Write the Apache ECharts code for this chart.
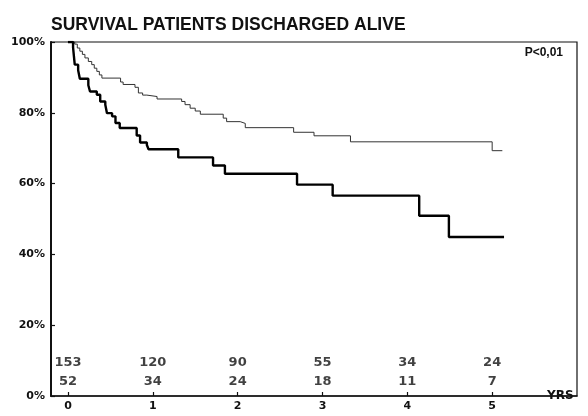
<!DOCTYPE html>
<html>
<head>
<meta charset="utf-8">
<script src="https://cdn.jsdelivr.net/npm/echarts@6/dist/echarts.min.js"></script>
<style>
  html, body { margin: 0; padding: 0; background: #fff; }
  #chart { width: 588px; height: 416px; }
</style>
</head>
<body>
<div id="chart"></div>
<script>
// years on the x axis, tick labels
const yearTicks = [0, 1, 2, 3, 4, 5];
const yTicks = [0, 20, 40, 60, 80, 100];

// patients at risk under each year
const atRiskAll = [153, 120, 90, 55, 34, 24];
const atRiskLow = [52, 34, 24, 18, 11, 7];

// survival steps [year, %] — thin curve (upper group)
const survivalUpper = [
  [0, 100], [0.08, 99.4], [0.11, 98.3], [0.14, 97.4], [0.17, 96.5], [0.2, 95.5],
  [0.24, 94.5], [0.28, 93.6], [0.31, 92.6], [0.34, 91.7], [0.37, 90.7], [0.4, 89.8],
  [0.62, 88.7], [0.65, 88], [0.79, 87.2], [0.83, 85.6], [0.88, 85], [0.93, 84.6],
  [1.05, 83.9], [1.34, 83.2], [1.38, 82.3], [1.44, 81.3], [1.5, 80.5], [1.56, 79.6],
  [1.83, 78.5], [1.87, 77.5], [2.03, 77], [2.09, 75.8], [2.66, 74.5], [2.9, 73.5],
  [3.33, 71.8], [5.0, 69.3], [5.12, 69.3]
];

// survival steps [year, %] — thick curve (lower group)
const survivalLower = [
  [0, 100], [0.06, 98.5], [0.07, 96], [0.08, 93.6], [0.12, 92], [0.14, 89.6],
  [0.24, 87.8], [0.26, 86], [0.34, 85.1], [0.38, 83.2], [0.44, 82.3], [0.46, 79.9],
  [0.52, 79], [0.56, 77.1], [0.61, 75.7], [0.81, 73.6], [0.85, 71.6], [0.93, 70.9],
  [0.95, 69.7], [1.3, 67.4], [1.71, 65.1], [1.85, 62.8], [2.7, 59.7], [3.12, 56.6],
  [4.14, 50.9], [4.49, 44.9], [5.14, 44.9]
];

// heights (in %) where the at-risk rows sit
const rowAllY = 9.3;
const rowLowY = 4.0;

const ink = "#111";
const numFont = "DejaVu Sans";

const chart = echarts.init(document.getElementById("chart"), null, { renderer: "canvas" });

// label style shared by both at-risk rows
const riskLabel = {
  show: true,
  position: "inside",
  formatter: (p) => String(p.data[2]),
  fontFamily: numFont,
  fontWeight: "bold",
  fontSize: 13,
  color: ink,
};

const option = {
  backgroundColor: "#fff",
  animation: false,
  title: {
    text: "SURVIVAL PATIENTS DISCHARGED ALIVE",
    left: 51,
    top: 16,
    padding: 0,
    textStyle: {
      fontFamily: "Liberation Sans",
      fontWeight: "bold",
      fontSize: 17.5,
      color: ink,
    },
  },
  grid: {
    left: 51,
    right: 11,
    top: 42,
    bottom: 20,
    show: true,
    borderColor: ink,
    borderWidth: 1.2,
    containLabel: false,
  },
  xAxis: {
    type: "value",
    min: -0.2,
    max: 6,
    name: "YRS",
    nameLocation: "end",
    nameGap: -30,
    nameTextStyle: {
      fontFamily: numFont,
      fontWeight: "bold",
      fontSize: 12,
      color: ink,
      align: "left",
      verticalAlign: "middle",
    },
    axisLine: { show: true, onZero: false, lineStyle: { color: ink, width: 1.5 } },
    axisTick: {
      show: true,
      inside: true,
      length: 4,
      customValues: yearTicks,
      lineStyle: { color: ink, width: 1.2 },
    },
    axisLabel: {
      customValues: yearTicks,
      margin: 5,
      fontFamily: numFont,
      fontWeight: "bold",
      fontSize: 11,
      color: ink,
    },
    splitLine: { show: false },
  },
  yAxis: {
    type: "value",
    min: 0,
    max: 100,
    interval: 20,
    axisLine: { show: true, onZero: false, lineStyle: { color: ink, width: 2 } },
    axisTick: {
      show: true,
      inside: true,
      length: 4,
      lineStyle: { color: ink, width: 1.2 },
    },
    axisLabel: {
      margin: 6,
      fontFamily: numFont,
      fontWeight: "bold",
      fontSize: 11,
      color: ink,
      formatter: (v) => (yTicks.includes(v) ? v + "%" : ""),
    },
    splitLine: { show: false },
  },
  graphic: [
    {
      type: "text",
      right: 25,
      top: 47,
      style: {
        text: "P<0,01",
        fontFamily: "Liberation Sans",
        fontWeight: "bold",
        fontSize: 12,
        fill: ink,
      },
    },
  ],
  series: [
    {
      name: "upper",
      type: "line",
      step: "end",
      data: survivalUpper,
      showSymbol: false,
      lineStyle: { color: "#333", width: 1 },
    },
    {
      name: "lower",
      type: "line",
      step: "end",
      data: survivalLower,
      showSymbol: false,
      lineStyle: { color: "#000", width: 2.4 },
    },
    {
      name: "atRiskAll",
      type: "scatter",
      symbolSize: 0,
      data: yearTicks.map((y, i) => [y, rowAllY, atRiskAll[i]]),
      label: riskLabel,
    },
    {
      name: "atRiskLow",
      type: "scatter",
      symbolSize: 0,
      data: yearTicks.map((y, i) => [y, rowLowY, atRiskLow[i]]),
      label: riskLabel,
    },
  ],
};

chart.setOption(option);
</script>
</body>
</html>
